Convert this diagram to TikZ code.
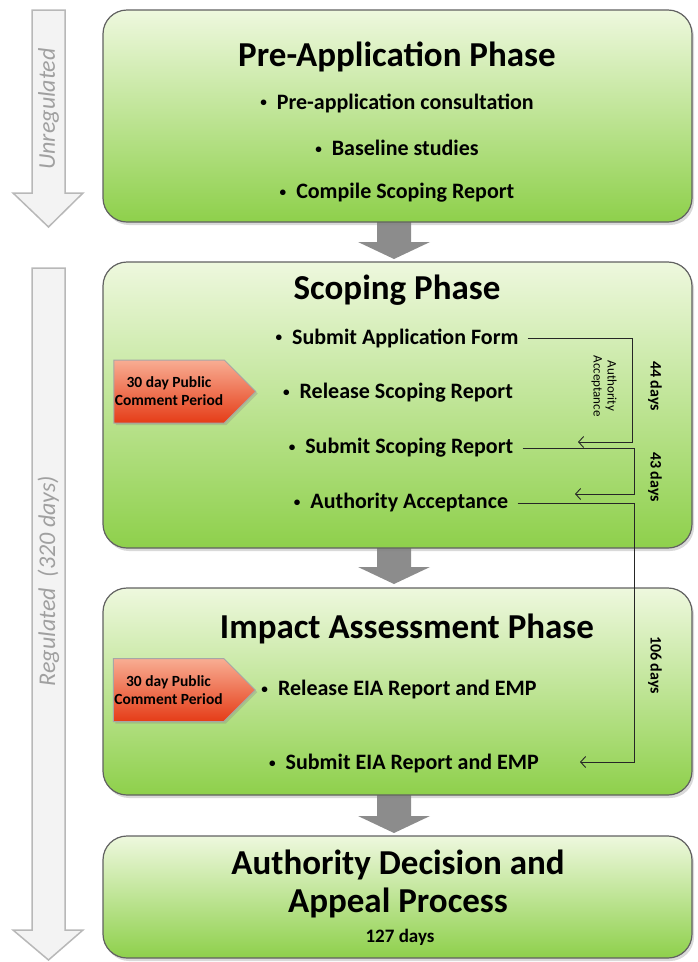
\documentclass[tikz,border=0pt]{standalone}
\usepackage{fontspec}
\usepackage{graphicx}
\setmainfont{Carlito}
\usetikzlibrary{positioning, shapes.symbols, shadows, arrows.meta}
\definecolor{colorTop}{HTML}{EEF8DE}
\definecolor{colorBot}{HTML}{8ED04B}
\definecolor{colorRedTop}{HTML}{F8AD93}
\definecolor{colorRedBot}{HTML}{E53C17}
\definecolor{colorSide}{HTML}{F3F3F3}
\definecolor{colorSideLine}{HTML}{B8B8B8}
\definecolor{colorSideText}{HTML}{A0A0A0}
\definecolor{colorDown}{HTML}{8C8C8C}
\newcommand{\bul}{\raisebox{0.1em}{\scalebox{0.6}{\textbullet}}\ \ }

\begin{document}
\begin{tikzpicture}[x=1pt, y=-1pt,
    phase/.style={draw=black!62, line width=1.2pt, rounded corners=24pt,
        top color=colorTop, bottom color=colorBot, minimum width=589pt,
        drop shadow={opacity=0.3, shadow xshift=2pt, shadow yshift=-3pt}},
    title/.style={font=\fontsize{35}{38}\selectfont\bfseries, align=center},
    item/.style={font=\fontsize{22}{24}\selectfont\bfseries},
    comment/.style={signal, signal to=east, draw=black!35, line width=1pt,
        top color=colorRedTop, bottom color=colorRedBot,
        minimum width=142pt, minimum height=63pt, inner sep=1pt, align=center,
        font=\fontsize{15.5}{18}\selectfont\bfseries,
        drop shadow={opacity=0.3, shadow xshift=2pt, shadow yshift=-2pt}},
    days/.style={font=\fontsize{16}{18}\selectfont\bfseries, rotate=-90},
    link/.style={draw=black!85, line width=0.9pt, -{Straight Barb[length=5pt, width=11pt]}},
    sidearrow/.style={fill=colorSide, draw=colorSideLine, line width=1.5pt},
    sidetext/.style={text=colorSideText, font=\fontsize{24}{28}\selectfont\itshape, rotate=90},
    down/.style={fill=colorDown}]
    \useasboundingbox (0,0) rectangle (697,962);

    % side arrows
    \filldraw[sidearrow] (32,10) -- (65,10) -- (65,193) -- (83,193) -- (48.5,227) -- (13,193) -- (32,193) -- cycle;
    \node[sidetext] (unreg) at (48.5,109) {Unregulated};
    \filldraw[sidearrow] (32,268) -- (65,268) -- (65,930) -- (83,930) -- (48.5,960) -- (13,930) -- (32,930) -- cycle;
    \node[sidetext] (reg) at (48.5,581) {Regulated\ \ (320 days)};

    % arrows between the phases
    \foreach \a/\b in {222/259, 548/584, 795/833}
        \fill[down] (377,\a) -- (411,\a) -- (411,\b-17) -- (430,\b-17) -- (394,\b) -- (358,\b-17) -- (377,\b-17) -- cycle;

    % phases
    \node[phase, minimum height=212pt] (pre) at (397.5,116) {};
    \node[phase, minimum height=286pt] (scoping) at (397.5,405) {};
    \node[phase, minimum height=207pt] (impact) at (397.5,691.5) {};
    \node[phase, minimum height=122pt] (decision) at (397.5,897) {};

    \node[title] (preT) at (397,57) {Pre-Application Phase};
    \node[item] (consult) at (397,103) {\bul Pre-application consultation};
    \node[item] (base) at (397,148) {\bul Baseline studies};
    \node[item] (compile) at (397,193) {\bul Compile Scoping Report};

    \node[title] (scopingT) at (397,290) {Scoping Phase};
    \node[item] (app) at (397,338) {\bul Submit Application Form};
    \node[item] (release) at (398,393) {\bul Release Scoping Report};
    \node[item] (ssr) at (401,448) {\bul Submit Scoping Report};
    \node[item] (accept) at (401,503) {\bul Authority Acceptance};

    \node[title] (impactT) at (407,629) {Impact Assessment Phase};
    \node[item] (eia) at (399,690) {\bul Release EIA Report and EMP};
    \node[item] (seia) at (404,764) {\bul Submit EIA Report and EMP};

    \node[title] (decisionT) at (398,884) {Authority Decision and\\Appeal Process};
    \node[item, font=\fontsize{19}{22}\selectfont\bfseries] (total) at (400,937) {127 days};

    % comment periods
    \node[comment] (pc1) at (169,391.5) {30 day Public\\Comment Period};
    \node[comment] (pc2) at (168.5,690) {30 day Public\\Comment Period};

    % time links
    \coordinate (c44) at (632,442);
    \coordinate (e44) at (578,442);
    \coordinate (c43) at (634,494);
    \coordinate (e43) at (575,494);
    \coordinate (c106) at (634,762);
    \coordinate (e106) at (580,762);
    \draw[link] ([xshift=6pt]app.east) -| (c44) -- (e44);
    \draw[link] ([xshift=6pt]ssr.east) -| (c43) -- (e43);
    \draw[link] ([xshift=6pt]accept.east) -| (c106) -- (e106);

    \node[rotate=-90, align=center, font=\fontsize{13}{14}\selectfont] (auth) at (604,386) {Authority\\Acceptance};
    \node[days] (d44) at (655,386) {44 days};
    \node[days] (d43) at (655,477) {43 days};
    \node[days] (d106) at (655,665) {106 days};
\end{tikzpicture}
\end{document}
